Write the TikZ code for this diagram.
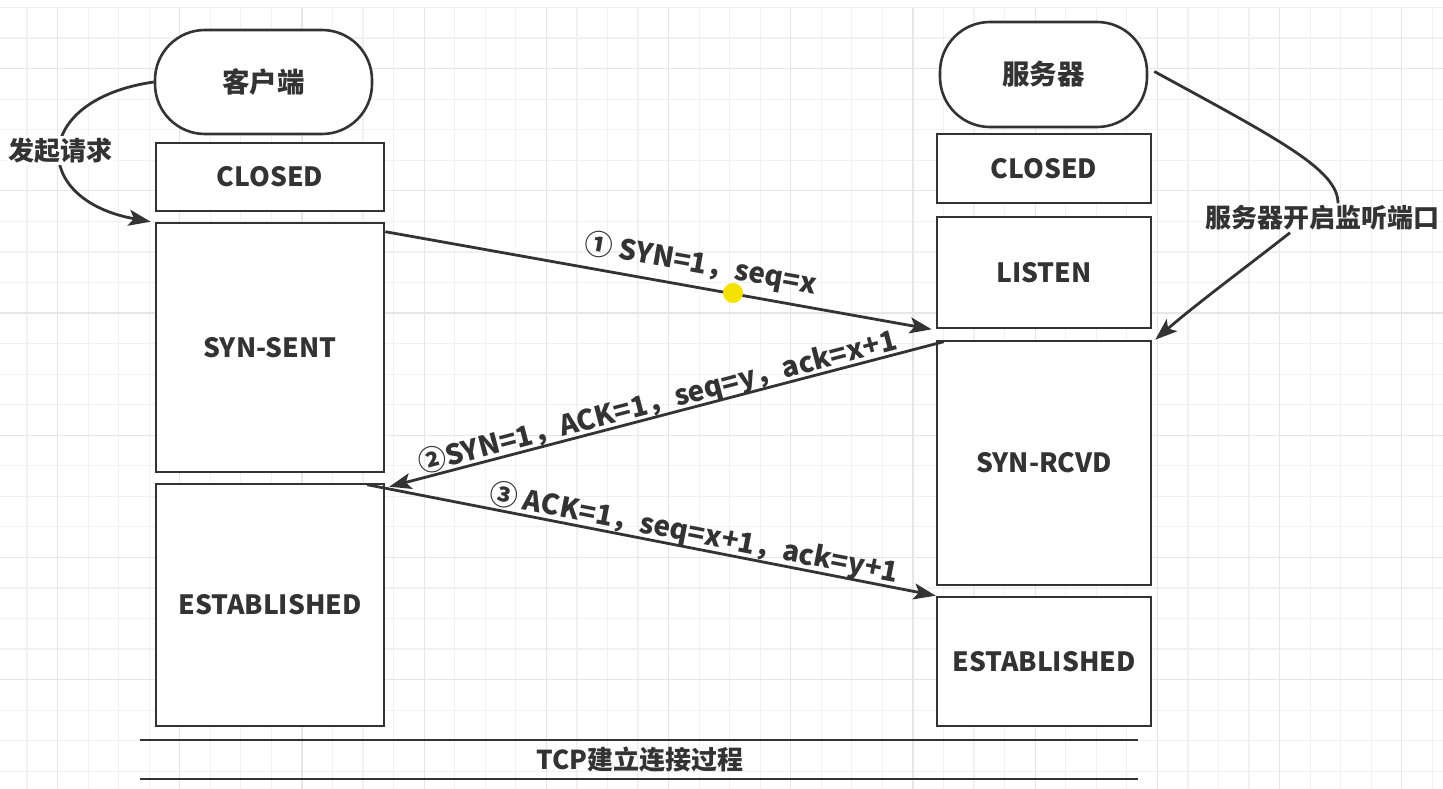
\documentclass[tikz,border=0pt]{standalone}
\usepackage{fontspec}
\setmainfont{Noto Sans CJK SC}
\usetikzlibrary{arrows.meta,calc}
\definecolor{ink}{HTML}{333333}
\definecolor{gridminor}{HTML}{F1F1F1}
\definecolor{gridmajor}{HTML}{E6E6E6}
\definecolor{cursor}{HTML}{F6E200}
\newcommand{\boxfont}{\fontsize{26.5}{30}\selectfont\bfseries}
\newcommand{\termfont}{\fontsize{27.5}{30}\selectfont\bfseries}
\newcommand{\cjkfont}{\fontsize{26}{30}\selectfont\bfseries}
\newcommand{\lblfont}{\fontsize{28}{32}\selectfont\bfseries}
\tikzset{
  stbox/.style={draw=ink, line width=2.6pt, inner sep=0pt, font=\boxfont, text=ink, fill=white},
  endbox/.style={stbox, font=\termfont, rounded corners=50pt},
  conn/.style={draw=ink, line width=2.8pt},
  msg/.style={conn, -{Stealth[length=22pt,width=16pt,inset=5pt]}},
  msglbl/.style={font=\lblfont, text=ink, sloped, inner sep=2pt},
  freelbl/.style={font=\cjkfont, text=ink, inner sep=2pt},
}
\begin{document}
\begin{tikzpicture}[x=1pt,y=-1pt]
\useasboundingbox (0,0) rectangle (1443,789);
\fill[white] (0,0) rectangle (1443,789);
% background grid
\foreach \k in {0,...,46} {\draw[gridminor, line width=1.2pt] ({27+\k*30.55},8) -- ({27+\k*30.55},789);}
\foreach \j in {0,...,25} {\draw[gridminor, line width=1.2pt] (0,{7.5+\j*30.55}) -- (1443,{7.5+\j*30.55});}
\foreach \k in {1,5,...,45} {\draw[gridmajor, line width=1.2pt] ({27+\k*30.55},8) -- ({27+\k*30.55},789);}
\foreach \j in {2,6,...,22} {\draw[gridmajor, line width=1.2pt] (0,{7.5+\j*30.55}) -- (1443,{7.5+\j*30.55});}

% client column
\node[endbox, minimum width=217pt, minimum height=104pt] (cli) at (263.5,82) {客户端};
\node[stbox, minimum width=228pt, minimum height=68pt] (ccl) at (270,177) {CLOSED};
\node[stbox, minimum width=228pt, minimum height=249pt] (csent) at (270,347.5) {SYN-SENT};
\node[stbox, minimum width=228pt, minimum height=242pt] (cest) at (270,605) {ESTABLISHED};

% server column
\node[endbox, minimum width=207pt, minimum height=105pt] (srv) at (1043.5,74.5) {服务器};
\node[stbox, minimum width=214pt, minimum height=69pt] (scl) at (1044,168.5) {CLOSED};
\node[stbox, minimum width=214pt, minimum height=111pt] (slis) at (1044,272.5) {LISTEN};
\node[stbox, minimum width=214pt, minimum height=244pt] (srcv) at (1044,463) {SYN-RCVD};
\node[stbox, minimum width=214pt, minimum height=129pt] (sest) at (1044,661.5) {ESTABLISHED};

% side annotations
\draw[msg] (cli.west) .. controls (30,100) and (30,200) .. ($(csent.north west)+(-4,0)$)
  node[freelbl, pos=0.5, fill=white] (req) {发起请求};
\node[freelbl] (lsn) at (1322,218) {服务器开启监听端口};
\draw[conn] ($(srv.east)+(6,-3)$) .. controls (1280,140) and (1338,170) .. ($(lsn.north)+(16,0)$);
\draw[msg] ($(lsn.south)+(-32,0)$) .. controls (1245,268) and (1195,305) .. ($(srcv.north east)+(3,0)$);

% handshake messages
\draw[msg] ($(csent.north east)+(0,10)$) -- node[msglbl, above=5pt, pos=0.57] {① SYN=1，seq=x} ($(slis.south west)+(-4,0)$);
\draw[msg] ($(srcv.north west)+(8,2)$) -- node[msglbl, above=-5pt, pos=0.51] {②SYN=1，ACK=1，seq=y，ack=x+1} ($(cest.north east)+(4,4)$);
\draw[msg] ($(cest.north east)+(-18,2)$) -- node[msglbl, above=-4pt, pos=0.57] {③ ACK=1，seq=x+1，ack=y+1} (sest.north west);

% cursor highlight
\fill[cursor] (733,293) circle (10pt);

% caption
\coordinate (t1) at (140,740); \coordinate (t2) at (1138,740);
\coordinate (b1) at (140,779); \coordinate (b2) at (1138,779);
\draw[conn] (t1) -- (t2);
\draw[conn] (b1) -- (b2);
\node[freelbl] (cap) at (640,760) {TCP建立连接过程};
\end{tikzpicture}
\end{document}
